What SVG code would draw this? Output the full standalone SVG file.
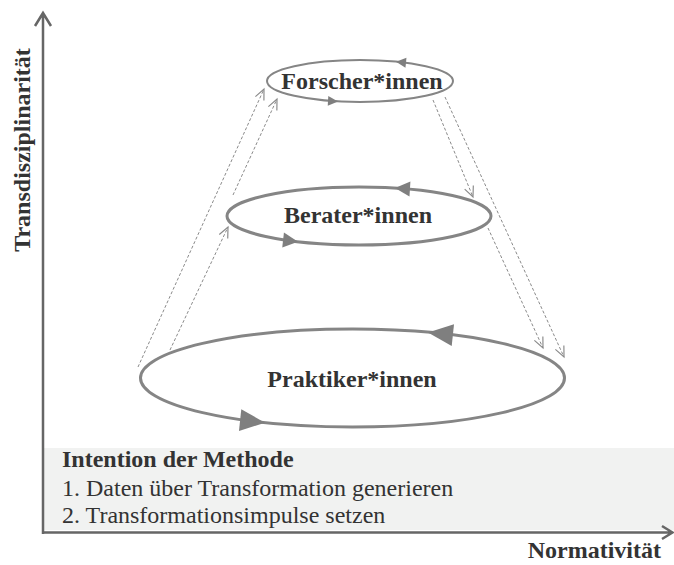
<svg xmlns="http://www.w3.org/2000/svg" width="674" height="565" viewBox="0 0 674 565">
<style>
.lbl{font-family:"Liberation Serif","Times New Roman",serif;font-weight:bold;font-size:24px;fill:#333}
.txt{font-family:"Liberation Serif","Times New Roman",serif;font-size:24px;fill:#333}
.ell{fill:none;stroke:#858585}
.dash{fill:none;stroke:#8a8a8a;stroke-width:1;stroke-dasharray:3,2}
.head{fill:#7f7f7f}
.axis{fill:none;stroke:#666;stroke-width:2.5}
</style>
<defs>
<marker id="chev" markerUnits="userSpaceOnUse" markerWidth="14" markerHeight="14" refX="10" refY="5" orient="auto" viewBox="0 0 12 10">
<path d="M1,1 L10,5 L1,9" fill="none" stroke="#8a8a8a" stroke-width="1"/>
</marker>
</defs>
<rect id="intention-box" x="44" y="448" width="630" height="82" fill="#f1f2f1"/>
<g id="axes">
<path class="axis" d="M43,534 L43,13 M35,26 L43,13 L51,26"/>
<path class="axis" d="M42,532.5 L672,532.5 M662,526 L672.5,532.5 L662,539"/>
<text class="lbl" transform="translate(30,150) rotate(-90)" text-anchor="middle">Transdisziplinarität</text>
<text class="lbl" x="661" y="558" text-anchor="end">Normativität</text>
</g>
<g id="connectors">
<path class="dash" d="M138,367 L264,89" marker-end="url(#chev)"/>
<path class="dash" d="M170,350 L228,227" marker-end="url(#chev)"/>
<path class="dash" d="M233,195 L277,99" marker-end="url(#chev)"/>
<path class="dash" d="M433,100 L473,197" marker-end="url(#chev)"/>
<path class="dash" d="M445,97 L564,357" marker-end="url(#chev)"/>
<path class="dash" d="M488,228 L543,348" marker-end="url(#chev)"/>
</g>
<g id="forscher">
<ellipse class="ell" cx="360" cy="81" rx="93" ry="21" stroke-width="2"/>
<polygon class="head" transform="translate(396,61.8) rotate(185.7)" points="0,0 -10,-5 -10,5"/>
<polygon class="head" transform="translate(338,101.4) rotate(3)" points="0,0 -10,-5 -10,5"/>
<text class="lbl" x="362" y="89" text-anchor="middle">Forscher*innen</text>
</g>
<g id="berater">
<ellipse class="ell" cx="359" cy="216" rx="132" ry="29" stroke-width="3"/>
<polygon class="head" transform="translate(395,188.1) rotate(183.6)" points="0,0 -15,-7.5 -15,7.5"/>
<polygon class="head" transform="translate(298,241.7) rotate(6.5)" points="0,0 -15,-7.5 -15,7.5"/>
<text class="lbl" x="358" y="223" text-anchor="middle">Berater*innen</text>
</g>
<g id="praktiker">
<ellipse class="ell" cx="352.5" cy="378" rx="212" ry="49" stroke-width="3"/>
<polygon class="head" transform="translate(428,332.5) rotate(186)" points="0,0 -25,-11 -25,11"/>
<polygon class="head" transform="translate(265,422.7) rotate(6)" points="0,0 -25,-11 -25,11"/>
<text class="lbl" x="352" y="387" text-anchor="middle">Praktiker*innen</text>
</g>
<g id="intention">
<text class="lbl" x="62" y="467">Intention der Methode</text>
<text class="txt" x="62" y="496">1. Daten über Transformation generieren</text>
<text class="txt" x="62" y="523">2. Transformationsimpulse setzen</text>
</g>
</svg>
